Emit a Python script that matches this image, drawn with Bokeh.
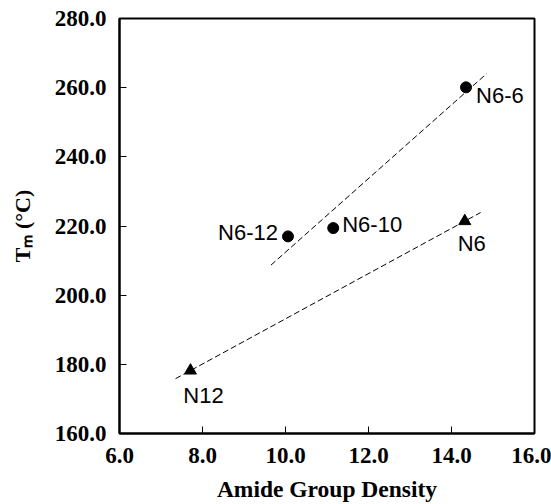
import numpy as np
from bokeh.plotting import figure
from bokeh.models import PrintfTickFormatter, FixedTicker, Range1d, ColumnDataSource
from bokeh.core.properties import value
from bokeh.embed import file_html
from bokeh.resources import INLINE

# Data
copoly_names = ["N6-6", "N6-10", "N6-12"]
copoly_density = [14.35, 11.15, 10.06]
copoly_tm = [260.1, 219.4, 217.0]

homo_names = ["N6", "N12"]
homo_density = [14.32, 7.71]
homo_tm = [221.4, 178.2]

upper_fit_x = [9.65, 14.85]
lower_fit_x = [7.35, 14.7]

x_ticks = [6.0, 8.0, 10.0, 12.0, 14.0, 16.0]
y_ticks = [160.0, 180.0, 200.0, 220.0, 240.0, 260.0, 280.0]

x_title = "Amide Group Density"
y_title = "Tₘ (°C)"

# Linear fits
cu = np.polyfit(copoly_density, copoly_tm, 1)
cl = np.polyfit(homo_density, homo_tm, 1)
upper_fit_y = list(np.polyval(cu, upper_fit_x))
lower_fit_y = list(np.polyval(cl, lower_fit_x))

W, H = 551, 504
p = figure(width=W, height=H, output_backend="svg", toolbar_location=None,
           x_range=Range1d(6, 16), y_range=Range1d(160, 280),
           min_border_left=119, min_border_right=17, min_border_top=18, min_border_bottom=71)
p.xgrid.visible = False
p.ygrid.visible = False
p.outline_line_color = "black"
p.outline_line_width = 2
p.background_fill_color = "white"
p.border_fill_color = "white"

for ax in (p.xaxis[0], p.yaxis[0]):
    ax.axis_line_width = 2
    ax.axis_line_color = "black"
    ax.major_tick_in = 7
    ax.major_tick_out = 0
    ax.major_tick_line_width = 1
    ax.minor_tick_in = 0
    ax.minor_tick_out = 0
    ax.formatter = PrintfTickFormatter(format="%.1f")
    ax.major_label_text_font = "Liberation Serif"
    ax.major_label_text_font_style = "bold"
    ax.major_label_text_font_size = "23px"
    ax.major_label_text_color = "black"
    ax.axis_label_text_font = "Liberation Serif"
    ax.axis_label_text_font_style = "bold"
    ax.axis_label_text_color = "black"

p.yaxis[0].major_label_standoff = 13
p.xaxis[0].major_label_standoff = 14
p.xaxis[0].ticker = FixedTicker(ticks=x_ticks)
p.yaxis[0].ticker = FixedTicker(ticks=y_ticks)

p.xaxis[0].axis_label = x_title
p.xaxis[0].axis_label_text_font_size = "23.5px"
p.xaxis[0].axis_label_standoff = 10

p.yaxis[0].axis_label = y_title
p.yaxis[0].axis_label_text_font_size = "22px"
p.yaxis[0].axis_label_standoff = 17

# Fit lines
p.line(upper_fit_x, upper_fit_y, line_color="black", line_width=1, line_dash="6 3")
p.line(lower_fit_x, lower_fit_y, line_color="black", line_width=1, line_dash="6 3")

# Points
p.scatter(copoly_density, copoly_tm, marker="circle", size=11, fill_color="black", line_color="black")
p.scatter(homo_density, homo_tm, marker="triangle", size=12, fill_color="black", line_color="black")

# Point labels
lab_style = dict(text_font=value("Liberation Sans"), text_font_size="22px", text_color="black",
                 text_baseline="middle")
src_c = ColumnDataSource(dict(x=copoly_density, y=copoly_tm, t=copoly_names,
                              xo=[10, 9, -10], yo=[8, -4, -4], al=["left", "left", "right"]))
p.text(x="x", y="y", text="t", x_offset="xo", y_offset="yo", text_align="al", source=src_c, **lab_style)
src_h = ColumnDataSource(dict(x=homo_density, y=homo_tm, t=homo_names,
                              xo=[7, 13], yo=[22, 25], al=["center", "center"]))
p.text(x="x", y="y", text="t", x_offset="xo", y_offset="yo", text_align="al", source=src_h, **lab_style)

open("out.html", "w").write(file_html(p, INLINE))
